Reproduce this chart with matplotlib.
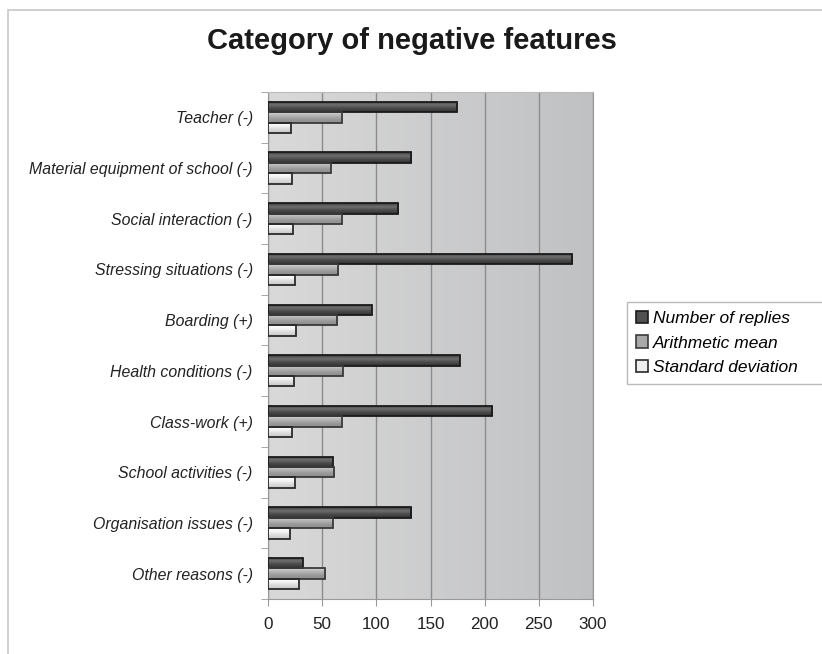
import numpy as np
import matplotlib
matplotlib.use("Agg")
import matplotlib.pyplot as plt
from matplotlib.patches import Rectangle, Patch
from matplotlib.colors import LinearSegmentedColormap

categories = ["Teacher (-)", "Material equipment of school (-)", "Social interaction (-)",
              "Stressing situations (-)", "Boarding (+)", "Health conditions (-)",
              "Class-work (+)", "School activities (-)", "Organisation issues (-)",
              "Other reasons (-)"]
replies = [174, 132, 120, 281, 96, 177, 207, 60, 132, 32]
means = [68, 58, 68, 65, 64, 69, 68, 61, 60, 53]
stdevs = [21, 22, 23, 25, 26, 24, 22, 25, 20, 29]
series_names = ["Number of replies", "Arithmetic mean", "Standard deviation"]
x_ticks = [0, 50, 100, 150, 200, 250, 300]

plt.rcParams['font.family'] = ['Liberation Sans', 'DejaVu Sans']

fig = plt.figure(figsize=(8.22, 6.54), dpi=100)
fig.patch.set_facecolor('white')
# outer chart border
fig.patches.append(Rectangle((8/822, -0.05), 1.0, 1 - 10/654 + 0.05, transform=fig.transFigure,
                             fill=False, edgecolor='#c8c8c8', linewidth=1.2))

ax = fig.add_axes([268/822, 1 - 599/654, 325/822, 507/654])

# background gradient
bg = LinearSegmentedColormap.from_list('bg', ['#d9d9d9', '#c0c1c3'])
grad = np.linspace(0, 1, 256).reshape(1, -1)
ax.imshow(grad, extent=[0, 1, 0, 1], transform=ax.transAxes, cmap=bg, aspect='auto', zorder=0)

n = len(categories)
y = np.arange(n)
h = 0.205

cmaps = [
    LinearSegmentedColormap.from_list('r', ['#3c3c3c', '#6e6e6e', '#4a4a4a', '#333333']),
    LinearSegmentedColormap.from_list('m', ['#d4d4d4', '#b4b4b4', '#999999', '#8c8c8c']),
    LinearSegmentedColormap.from_list('s', ['#ffffff', '#f4f4f4', '#dadada', '#c8c8c8']),
]
edges = ['#1a1a1a', '#3a3a3a', '#2a2a2a']
faces = ['#505050', '#a8a8a8', '#eeeeee']

for k, vals in enumerate([replies, means, stdevs]):
    bars = ax.barh(y + (k - 1) * h, vals, height=h, color=faces[k], edgecolor=edges[k],
                   linewidth=1.3, zorder=3)
    for b in bars:
        x0, y0 = b.get_x(), b.get_y()
        w, hh = b.get_width(), b.get_height()
        g = np.linspace(0, 1, 64).reshape(-1, 1)
        im = ax.imshow(g, extent=[x0, x0 + w, y0 + hh, y0], cmap=cmaps[k], aspect='auto',
                       zorder=3.5, origin='upper')
        im.set_clip_path(b)
        b.set_facecolor('none')
        b.set_zorder(4)

ax.set_xlim(0, 300)
ax.set_ylim(n - 0.5, -0.5)
ax.set_xticks(x_ticks)
ax.set_xticklabels([str(t) for t in x_ticks], fontsize=12.3, color='#222222')
ax.set_yticks(y)
ax.set_yticklabels(categories, fontsize=11.4, style='italic', color='#222222')
ax.set_yticks(np.arange(n + 1) - 0.5, minor=True)
ax.tick_params(axis='y', which='major', length=0, pad=11)
ax.tick_params(axis='y', which='minor', length=5, color='#999999', direction='out')
ax.tick_params(axis='x', length=5, color='#999999', pad=8)
ax.grid(axis='x', color='#8c8c8c', linewidth=1.0, zorder=1)
ax.set_axisbelow(True)
for s in ['top']:
    ax.spines[s].set_color('#bbbbbb')
for s in ['left', 'bottom', 'right']:
    ax.spines[s].set_color('#999999')

fig.text(412/822, 1 - 41/654, "Category of negative features", ha='center', va='center',
         fontsize=21, fontweight='bold', color='#1a1a1a')

handles = [Patch(facecolor=faces[k], edgecolor=edges[k], linewidth=1.2) for k in range(3)]
leg = fig.legend(handles, series_names, loc='upper left',
                 bbox_to_anchor=(627/822, 1 - 391/654, 230/822, 89/654), mode='expand',
                 frameon=True, fancybox=False, edgecolor='#aaaaaa', prop={'style': 'italic', 'size': 12.5},
                 handlelength=0.7, handleheight=0.7, handletextpad=0.3, labelspacing=0.55,
                 borderpad=0.5, borderaxespad=0)
leg.get_frame().set_linewidth(1.0)

fig.savefig("out.png", dpi=100)
